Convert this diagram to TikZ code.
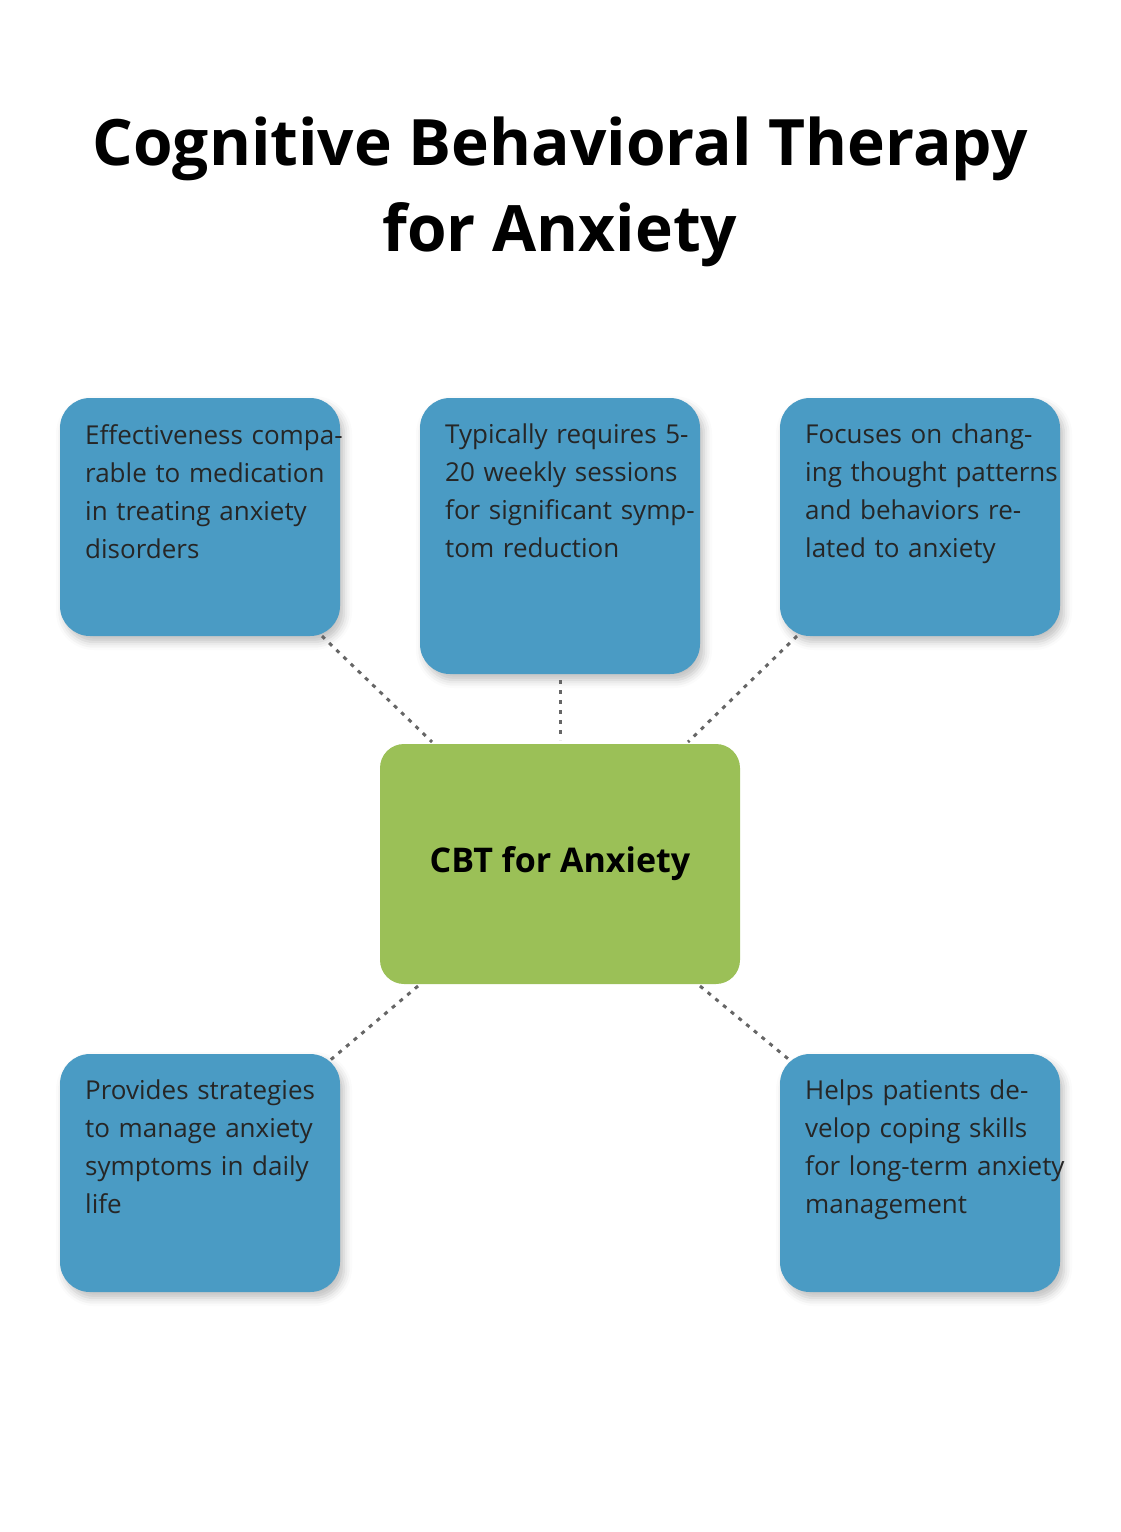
\documentclass[tikz,border=0pt]{standalone}
\usepackage{fontspec}
\setmainfont{Open Sans}
\usetikzlibrary{shadows.blur}
\definecolor{bluebox}{HTML}{4A9BC4}
\definecolor{greenbox}{HTML}{9BC057}
\begin{document}
\begin{tikzpicture}[x=1pt,y=-1pt,
 box/.style={draw=none,fill=bluebox,rounded corners=30pt,minimum width=280pt,blur shadow={shadow xshift=4pt,shadow yshift=-6pt,shadow blur radius=8pt,shadow opacity=25},inner sep=0},
 txt/.style={anchor=north west,align=left,text width=260pt,inner sep=0,font=\fontsize{26}{38}\selectfont,text=black!85},
 conn/.style={draw=black!60,line width=3pt,dash pattern=on 4pt off 6pt}]
\useasboundingbox (0,0) rectangle (1120,1532);
\node[font=\fontsize{64}{86}\selectfont\bfseries,align=center] (title) at (560,192) {Cognitive Behavioral Therapy\\for Anxiety};
\node[box,minimum height=238pt] (b1) at (200,517) {};
\node[box,minimum height=276pt] (b2) at (560,536) {};
\node[box,minimum height=238pt] (b3) at (920,517) {};
\node[box,minimum height=238pt] (b4) at (200,1173) {};
\node[box,minimum height=238pt] (b5) at (920,1173) {};
\node[draw=none,fill=greenbox,rounded corners=24pt,minimum width=360pt,minimum height=240pt,inner sep=0,font=\fontsize{34}{40}\selectfont\bfseries] (c) at (560,864) {CBT for Anxiety};
\node[txt] (t1) at (85,424) {Effectiveness comparable to medication in treating anxiety disorders};
\node[txt] (t2) at (445,424) {Typically requires 5-20 weekly sessions for significant symptom reduction};
\node[txt] (t3) at (805,424) {Focuses on changing thought patterns and behaviors related to anxiety};
\node[txt] (t4) at (85,1080) {Provides strategies to manage anxiety symptoms in daily life};
\node[txt] (t5) at (805,1080) {Helps patients develop coping skills for long-term anxiety management};
\coordinate (p1) at (322,636); \coordinate (q1) at (432,742);
\coordinate (p2) at (560,680); \coordinate (q2) at (560,740);
\coordinate (p3) at (797,636); \coordinate (q3) at (688,742);
\coordinate (p4) at (328,1062); \coordinate (q4) at (418,986);
\coordinate (p5) at (792,1062); \coordinate (q5) at (700,986);
\draw[conn] (p1) -- (q1); \draw[conn] (p2) -- (q2); \draw[conn] (p3) -- (q3);
\draw[conn] (q4) -- (p4); \draw[conn] (q5) -- (p5);
\end{tikzpicture}
\end{document}
